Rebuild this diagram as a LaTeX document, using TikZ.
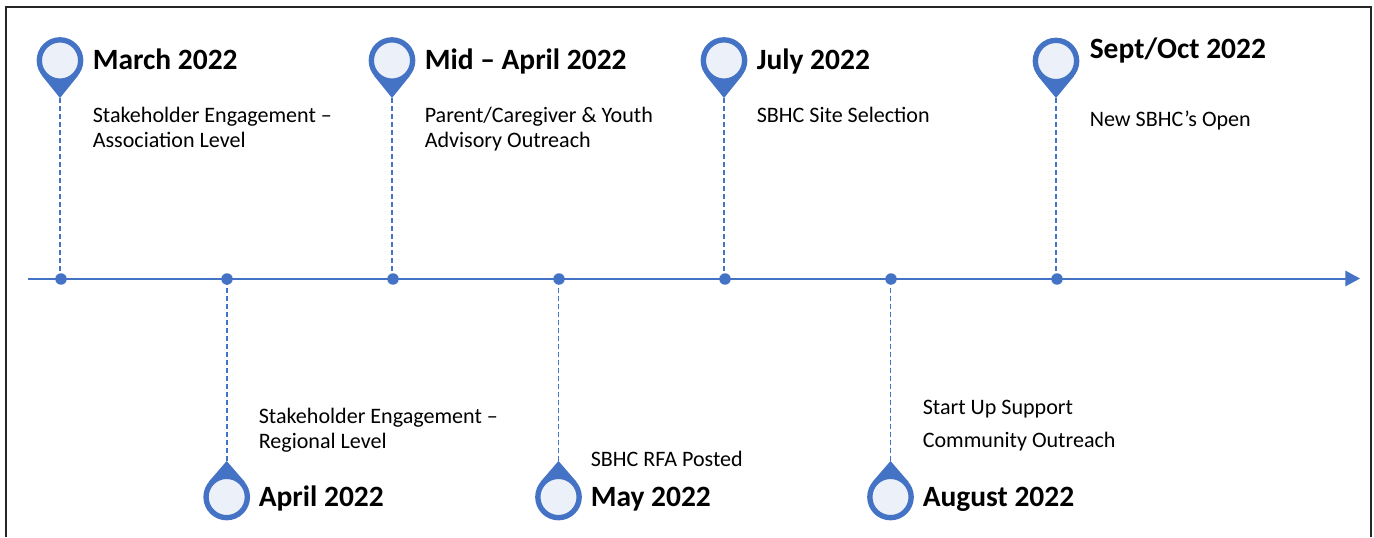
\documentclass[tikz,border=0pt]{standalone}
\usepackage{fontspec}
\setmainfont{Carlito}
\definecolor{pinblue}{HTML}{4472C4}
\definecolor{pinface}{HTML}{EBF0F9}
\usetikzlibrary{arrows.meta}
\tikzset{
  x=0.75pt,y=-0.75pt,
  frame/.style={draw=black!85,line width=1.1pt},
  axisline/.style={draw=pinblue,line width=1.5pt,-{Triangle[length=11pt,width=11.5pt]}},
  dotmark/.style={circle,fill=pinblue,inner sep=0pt,minimum size=8.6pt},
  dropline/.style={draw=pinblue,line width=1.2pt,dash pattern=on 3.4pt off 2.6pt},
  pinhead/.style={circle,draw=pinblue,fill=pinface,line width=4pt,inner sep=0pt,minimum size=31pt},
  pintip/.style={fill=pinblue},
  title/.style={anchor=base west,inner sep=0pt,font=\fontsize{22.1pt}{24pt}\selectfont\bfseries},
  body/.style={anchor=base west,inner sep=0pt,align=left,font=\fontsize{16.55pt}{18.75pt}\selectfont},
}
% #1 index, #2 x, #3 head y, #4 tip y, #5 dot x
\newcommand{\pinmark}[5]{%
  \coordinate (t#1) at (#2,#4);
  \pgfmathsetmacro{\sgn}{(#4>#3)?1:-1}
  \fill[pintip] (#2,#4) -- ({#2+18.3},{#3+\sgn*14.8}) -- ({#2-18.3},{#3+\sgn*14.8}) -- cycle;
  \node[pinhead] (h#1) at (#2,#3) {};
  \node[dotmark] (d#1) at (#5,279) {};
  \draw[dropline] (t#1) -- (t#1 |- d#1);
}
\begin{document}
\begin{tikzpicture}
\useasboundingbox (0,0) rectangle (1374,537);
\fill[white] (0,0) rectangle (1374,537);
\draw[frame] (6,537) -- (6,7) -- (1371,7) -- (1371,537);
\coordinate (axisstart) at (28,278.5);
\coordinate (axisend) at (1360,278.5);
\draw[axisline] (axisstart) -- (axisend);
\pinmark{1}{60}{60.5}{98}{61}
\pinmark{2}{226.7}{497}{461}{227}
\pinmark{3}{392}{60.5}{98}{393}
\pinmark{4}{558.5}{497}{461}{559}
\pinmark{5}{724}{60.5}{98}{725}
\pinmark{6}{890.5}{497}{461}{891}
\pinmark{7}{1056}{61}{98}{1057}
\node[title] (m1) at (92.5,69) {March 2022};
\node[body] (b1) at (92.5,147) {Stakeholder Engagement –\\Association Level};
\node[title] (m2) at (258.5,506) {April 2022};
\node[body] (b2) at (258.5,448) {Stakeholder Engagement –\\Regional Level};
\node[title] (m3) at (424.5,69) {Mid – April 2022};
\node[body] (b3) at (424.5,147) {Parent/Caregiver \& Youth\\Advisory Outreach};
\node[title] (m4) at (590.5,506.5) {May 2022};
\node[body] (b4) at (590.5,466) {SBHC RFA Posted};
\node[title] (m5) at (756.5,69) {July 2022};
\node[body] (b5) at (756.5,122) {SBHC Site Selection};
\node[title] (m6) at (922.5,506.5) {August 2022};
\node[body] (b6a) at (922.5,414.5) {Start Up Support};
\node[body] (b6b) at (922.5,447.5) {Community Outreach};
\node[title] (m7) at (1089.5,58) {Sept/Oct 2022};
\node[body] (b7) at (1089.5,126) {New SBHC’s Open};
\end{tikzpicture}
\end{document}
